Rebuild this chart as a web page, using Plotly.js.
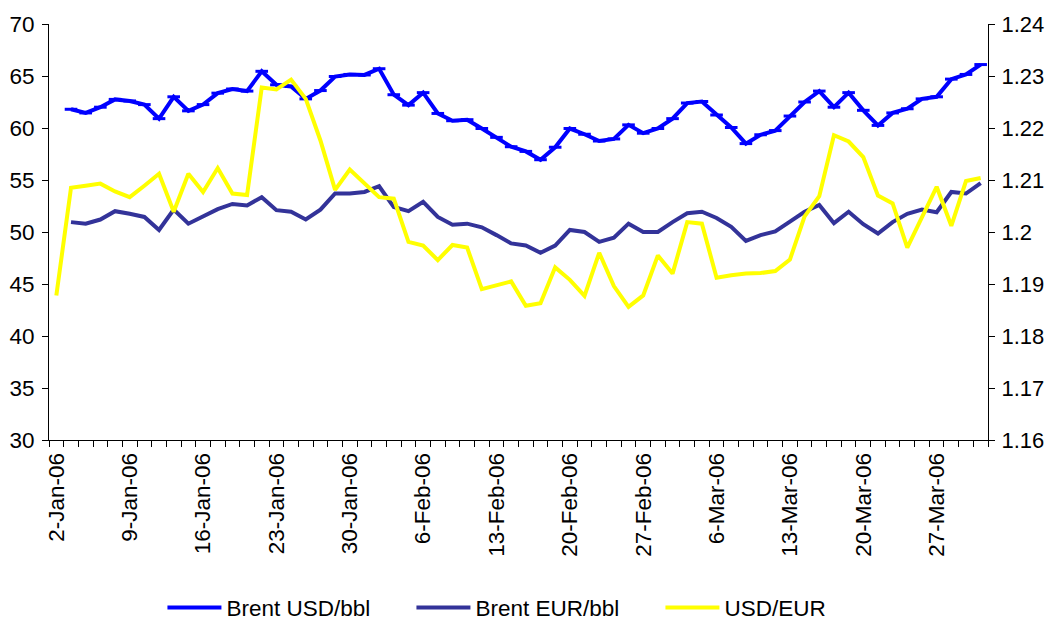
<!DOCTYPE html>
<html>
<head>
<meta charset="utf-8">
<script src="https://cdn.plot.ly/plotly-3.0.1.min.js"></script>
<style>
html,body{margin:0;padding:0;background:#fff;}
#chart{width:1048px;height:621px;}
</style>
</head>
<body>
<div id="chart"></div>
<script>
// Business days (category axis), Jan-Mar 2006
const dates = [
  "2-Jan-06","3-Jan-06","4-Jan-06","5-Jan-06","6-Jan-06",
  "9-Jan-06","10-Jan-06","11-Jan-06","12-Jan-06","13-Jan-06",
  "16-Jan-06","17-Jan-06","18-Jan-06","19-Jan-06","20-Jan-06",
  "23-Jan-06","24-Jan-06","25-Jan-06","26-Jan-06","27-Jan-06",
  "30-Jan-06","31-Jan-06","1-Feb-06","2-Feb-06","3-Feb-06",
  "6-Feb-06","7-Feb-06","8-Feb-06","9-Feb-06","10-Feb-06",
  "13-Feb-06","14-Feb-06","15-Feb-06","16-Feb-06","17-Feb-06",
  "20-Feb-06","21-Feb-06","22-Feb-06","23-Feb-06","24-Feb-06",
  "27-Feb-06","28-Feb-06","1-Mar-06","2-Mar-06","3-Mar-06",
  "6-Mar-06","7-Mar-06","8-Mar-06","9-Mar-06","10-Mar-06",
  "13-Mar-06","14-Mar-06","15-Mar-06","16-Mar-06","17-Mar-06",
  "20-Mar-06","21-Mar-06","22-Mar-06","23-Mar-06","24-Mar-06",
  "27-Mar-06","28-Mar-06","29-Mar-06","30-Mar-06"
];

const brentUSD = [
  null, 61.8, 61.45, 62.0, 62.75,
  62.6, 62.25, 60.9, 63.0, 61.65,
  62.25, 63.35, 63.75, 63.55, 65.45,
  64.15, 64.0, 62.8, 63.6, 64.95,
  65.15, 65.1, 65.7, 63.2, 62.2,
  63.4, 61.4, 60.7, 60.8, 59.95,
  59.1, 58.2, 57.75, 56.95, 58.15,
  59.95, 59.4, 58.75, 58.95, 60.3,
  59.5, 59.95, 60.9, 62.4, 62.55,
  61.25, 60.05, 58.5, 59.35, 59.75,
  61.15, 62.5, 63.55, 62.0, 63.4,
  61.7, 60.25, 61.45, 61.85, 62.8,
  63.0, 64.7, 65.15, 66.1
];

const brentEUR = [
  null, 50.95, 50.8, 51.2, 52.0,
  51.75, 51.45, 50.2, 52.15, 50.8,
  51.45, 52.2, 52.7, 52.55, 53.35,
  52.1, 51.95, 51.2, 52.15, 53.7,
  53.7, 53.85, 54.4, 52.4, 52.0,
  52.9, 51.45, 50.7, 50.8, 50.45,
  49.7, 48.9, 48.7, 48.0, 48.7,
  50.2, 50.0, 49.05, 49.45, 50.8,
  50.0, 50.0, 50.95, 51.8, 51.95,
  51.35, 50.5, 49.15, 49.7, 50.05,
  51.0, 51.95, 52.6, 50.85, 51.95,
  50.75, 49.85, 50.95, 51.75, 52.15,
  51.9, 53.85, 53.7, 54.7
];

const usdEur = [
  1.1878, 1.2085, 1.2089, 1.2093, 1.2078,
  1.2067, 1.2089, 1.2112, 1.2039, 1.2112,
  1.2077, 1.2123, 1.2074, 1.2071, 1.2278,
  1.2274, 1.2293, 1.2256, 1.2176, 1.2081,
  1.2120, 1.2094, 1.2067, 1.2064, 1.1981,
  1.1974, 1.1946, 1.1975, 1.1970, 1.1890,
  1.1897, 1.1905, 1.1858, 1.1863, 1.1932,
  1.1908, 1.1877, 1.1960, 1.1896, 1.1856,
  1.1878, 1.1955, 1.1920, 1.2019, 1.2016,
  1.1912, 1.1917, 1.1920, 1.1921, 1.1925,
  1.1947, 1.2030, 1.2069, 1.2186, 1.2174,
  1.2144, 1.2070, 1.2055, 1.1970, 1.2028,
  1.2087, 1.2012, 1.2098, 1.2104
];

const seriesNames = ["Brent USD/bbl", "Brent EUR/bbl", "USD/EUR"];
const labelStep = 5;

const xIdx = dates.map((d, i) => i);
const tickIdx = xIdx.filter(i => i % labelStep === 0);
const tickTxt = tickIdx.map(i => dates[i]);

const FONT = "Liberation Sans, Arial, sans-serif";
const FS = 22.5;

const traces = [
  {
    x: xIdx, y: brentUSD, name: seriesNames[0], type: "scatter", mode: "lines+markers",
    line: {color: "#0000FF", width: 4},
    marker: {symbol: "line-ew", size: 9, color: "#0000FF", line: {color: "#0000FF", width: 3}},
    xaxis: "x", yaxis: "y", connectgaps: false
  },
  {
    x: xIdx, y: brentEUR, name: seriesNames[1], type: "scatter", mode: "lines",
    line: {color: "#333399", width: 4},
    xaxis: "x", yaxis: "y"
  },
  {
    x: xIdx, y: usdEur, name: seriesNames[2], type: "scatter", mode: "lines",
    line: {color: "#FFFF00", width: 4},
    xaxis: "x", yaxis: "y2"
  }
];

const xRange = [-0.5, dates.length - 0.5];

const layout = {
  width: 1048, height: 621,
  margin: {l: 49, r: 60, t: 24, b: 181, pad: 0, autoexpand: false},
  paper_bgcolor: "#fff", plot_bgcolor: "#fff",
  font: {family: FONT, size: FS, color: "#000"},
  showlegend: true,
  legend: {
    orientation: "h", xref: "container", x: 0.155, xanchor: "left",
    yref: "container", y: 0.021, yanchor: "middle",
    font: {family: FONT, size: FS, color: "#000"},
    itemwidth: 54, entrywidth: 180, entrywidthmode: "pixels",
    bgcolor: "rgba(0,0,0,0)", traceorder: "normal"
  },
  xaxis: {
    range: xRange, showgrid: false, zeroline: false, automargin: false,
    showline: true, linecolor: "#000", linewidth: 1,
    tickmode: "array", tickvals: tickIdx, ticktext: tickTxt,
    ticks: "outside", ticklen: 3, tickcolor: "rgba(0,0,0,0)",
    tickangle: -90, tickfont: {family: FONT, size: FS, color: "#000"},
    ticklabelstandoff: 0,
    minor: {tickmode: "linear", tick0: -0.5, dtick: 1, ticks: "outside", ticklen: 6, tickcolor: "#000", tickwidth: 1, showgrid: false}
  },
  xaxis2: {
    range: xRange, overlaying: "x", anchor: "y", side: "bottom", automargin: false,
    showgrid: false, zeroline: false, showline: false, showticklabels: false,
    ticks: "",
    minor: {tickmode: "linear", tick0: -0.5, dtick: 1, ticks: "inside", ticklen: 5, tickcolor: "#000", tickwidth: 1, showgrid: false}
  },
  yaxis: {
    range: [30, 70], tickmode: "linear", tick0: 30, dtick: 5, automargin: false,
    showgrid: false, zeroline: false,
    showline: true, linecolor: "#000", linewidth: 1,
    ticks: "outside", ticklen: 6, tickcolor: "#000", tickwidth: 1,
    ticklabelstandoff: 3,
    tickfont: {family: FONT, size: FS, color: "#000"}
  },
  yaxis3: {
    range: [30, 70], overlaying: "y", anchor: "x", side: "left", automargin: false,
    tickmode: "linear", tick0: 30, dtick: 5,
    showgrid: false, zeroline: false, showline: false, showticklabels: false,
    ticks: "inside", ticklen: 5, tickcolor: "#000", tickwidth: 1
  },
  yaxis2: {
    range: [1.16, 1.24], overlaying: "y", anchor: "x", side: "right", automargin: false,
    tickmode: "linear", tick0: 1.16, dtick: 0.01,
    showgrid: false, zeroline: false,
    showline: true, linecolor: "#000", linewidth: 1,
    ticks: "outside", ticklen: 6, tickcolor: "#000", tickwidth: 1,
    ticklabelstandoff: 2,
    tickfont: {family: FONT, size: 22, color: "#000"}
  },
  yaxis4: {
    range: [1.16, 1.24], overlaying: "y", anchor: "x", side: "right", automargin: false,
    tickmode: "linear", tick0: 1.16, dtick: 0.01,
    showgrid: false, zeroline: false, showline: false, showticklabels: false,
    ticks: "inside", ticklen: 5, tickcolor: "#000", tickwidth: 1
  }
};

Plotly.newPlot("chart", traces, layout, {displayModeBar: false, staticPlot: true});
</script>
</body>
</html>
